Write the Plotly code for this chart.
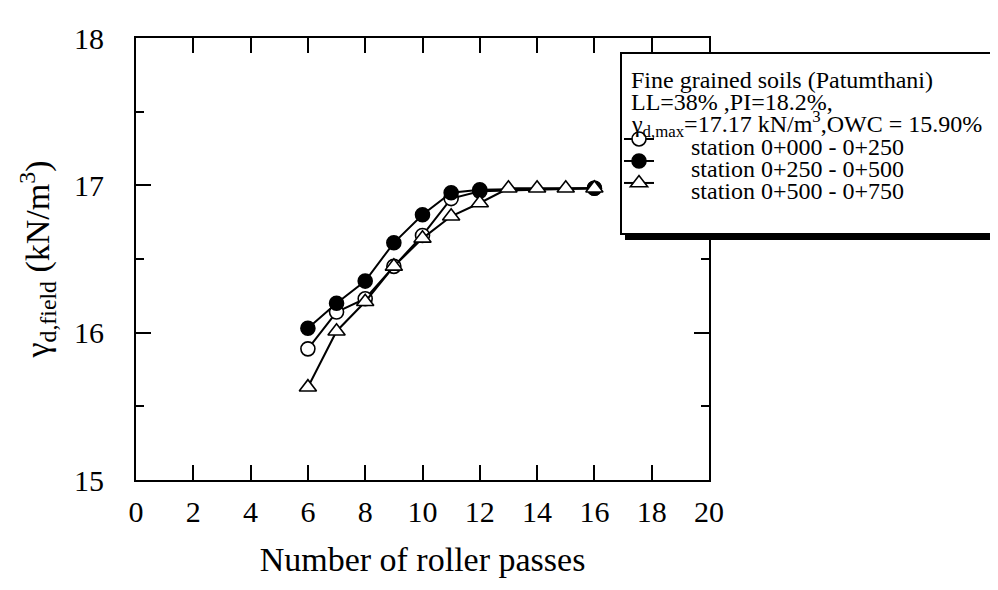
import plotly.graph_objects as go

# ── data ─────────────────────────────────────────────────────────────────────
passes_open = [6, 7, 8, 9, 10, 11, 12, 16]
gamma_open = [15.89, 16.14, 16.23, 16.45, 16.66, 16.91, 16.96, 16.98]

passes_filled = [6, 7, 8, 9, 10, 11, 12, 16]
gamma_filled = [16.03, 16.20, 16.35, 16.61, 16.80, 16.95, 16.97, 16.98]

passes_tri = [6, 7, 8, 9, 10, 11, 12, 13, 14, 15, 16]
gamma_tri = [15.63, 16.01, 16.21, 16.45, 16.64, 16.79, 16.88, 16.98, 16.98, 16.98, 16.98]

station_labels = ["station 0+000 - 0+250", "station 0+250 - 0+500", "station 0+500 - 0+750"]
header_lines = [
    "Fine grained soils (Patumthani)",
    "LL=38% ,PI=18.2%,",
    "γ<sub>d,max</sub>=17.17 kN/m<sup>3</sup>,OWC = 15.90%",
]

FONT = "Liberation Serif"

# plot area in pixels (998 x 590 page)
PL, PR, PT, PB = 128, 701, 30, 472


def px_x(p):
    return (p - PL) / (PR - PL)


def px_y(p):
    return (PB - p) / (PB - PT)


fig = go.Figure()

styles = [
    (passes_open, gamma_open, "circle", "white", 14),
    (passes_filled, gamma_filled, "circle", "black", 14),
    (passes_tri, gamma_tri, "triangle-up", "white", 15),
]
for (xs, ys, sym, fill, size), label in zip(styles, station_labels):
    # legend only draws the symbols; the labels are annotations (tighter spacing)
    fig.add_trace(go.Scatter(
        x=xs, y=ys, name="", mode="lines+markers",
        line=dict(color="black", width=2),
        marker=dict(symbol=sym, size=size, color=fill, line=dict(color="black", width=1.6)),
        hovertemplate=label + "<br>%{x}, %{y}<extra></extra>",
    ))

axis_common = dict(
    showline=True, linecolor="black", linewidth=2, mirror="ticks",
    ticks="inside", ticklen=15, tickwidth=2, tickcolor="black",
    showgrid=False, zeroline=False,
    tickfont=dict(family=FONT, size=30, color="black"),
)

fig.update_xaxes(
    range=[0, 20], tickvals=list(range(0, 21, 2)), ticklabelstandoff=4,
    title=dict(text="Number of roller passes", font=dict(family=FONT, size=34, color="black"), standoff=20),
    **axis_common,
)
fig.update_yaxes(
    range=[15, 18], tickvals=[15, 16, 17, 18], ticklabelstandoff=24,
    minor=dict(tickvals=[15.5, 16.5, 17.5], ticks="inside", ticklen=8, tickwidth=2, tickcolor="black"),
    title=dict(text="γ<sub>d,field</sub> (kN/m<sup>3</sup>)", font=dict(family=FONT, size=34, color="black"), standoff=14),
    **axis_common,
)

# legend box with drop shadow
shapes = [
    dict(type="rect", xref="paper", yref="paper", x0=px_x(617), x1=px_x(1010), y0=px_y(232), y1=px_y(50),
         fillcolor="black", line=dict(width=0), layer="above"),
    dict(type="rect", xref="paper", yref="paper", x0=px_x(613), x1=px_x(1010), y0=px_y(226), y1=px_y(45),
         fillcolor="white", line=dict(color="black", width=2), layer="above"),
]

annotations = []
for txt, yc in zip(header_lines, [72, 94, 116]):
    annotations.append(dict(text=txt, xref="paper", yref="paper", x=px_x(621), y=px_y(yc),
                            xanchor="left", yanchor="middle", showarrow=False,
                            font=dict(family=FONT, size=24, color="black")))
for txt, yc in zip(station_labels, [139, 161, 183]):
    annotations.append(dict(text=txt, xref="paper", yref="paper", x=px_x(681), y=px_y(yc),
                            xanchor="left", yanchor="middle", showarrow=False,
                            font=dict(family=FONT, size=24, color="black")))

fig.update_layout(
    width=998, height=590,
    margin=dict(l=PL, r=998 - PR, t=PT, b=590 - PB, autoexpand=False),
    paper_bgcolor="white", plot_bgcolor="white",
    shapes=shapes, annotations=annotations,
    showlegend=True,
    legend=dict(
        x=px_x(611), y=px_y(115), xanchor="left", yanchor="top",
        bgcolor="rgba(0,0,0,0)", borderwidth=0,
        font=dict(family=FONT, size=14.6, color="black"),
        itemclick=False, itemdoubleclick=False,
    ),
)

fig.write_html("out.html")
